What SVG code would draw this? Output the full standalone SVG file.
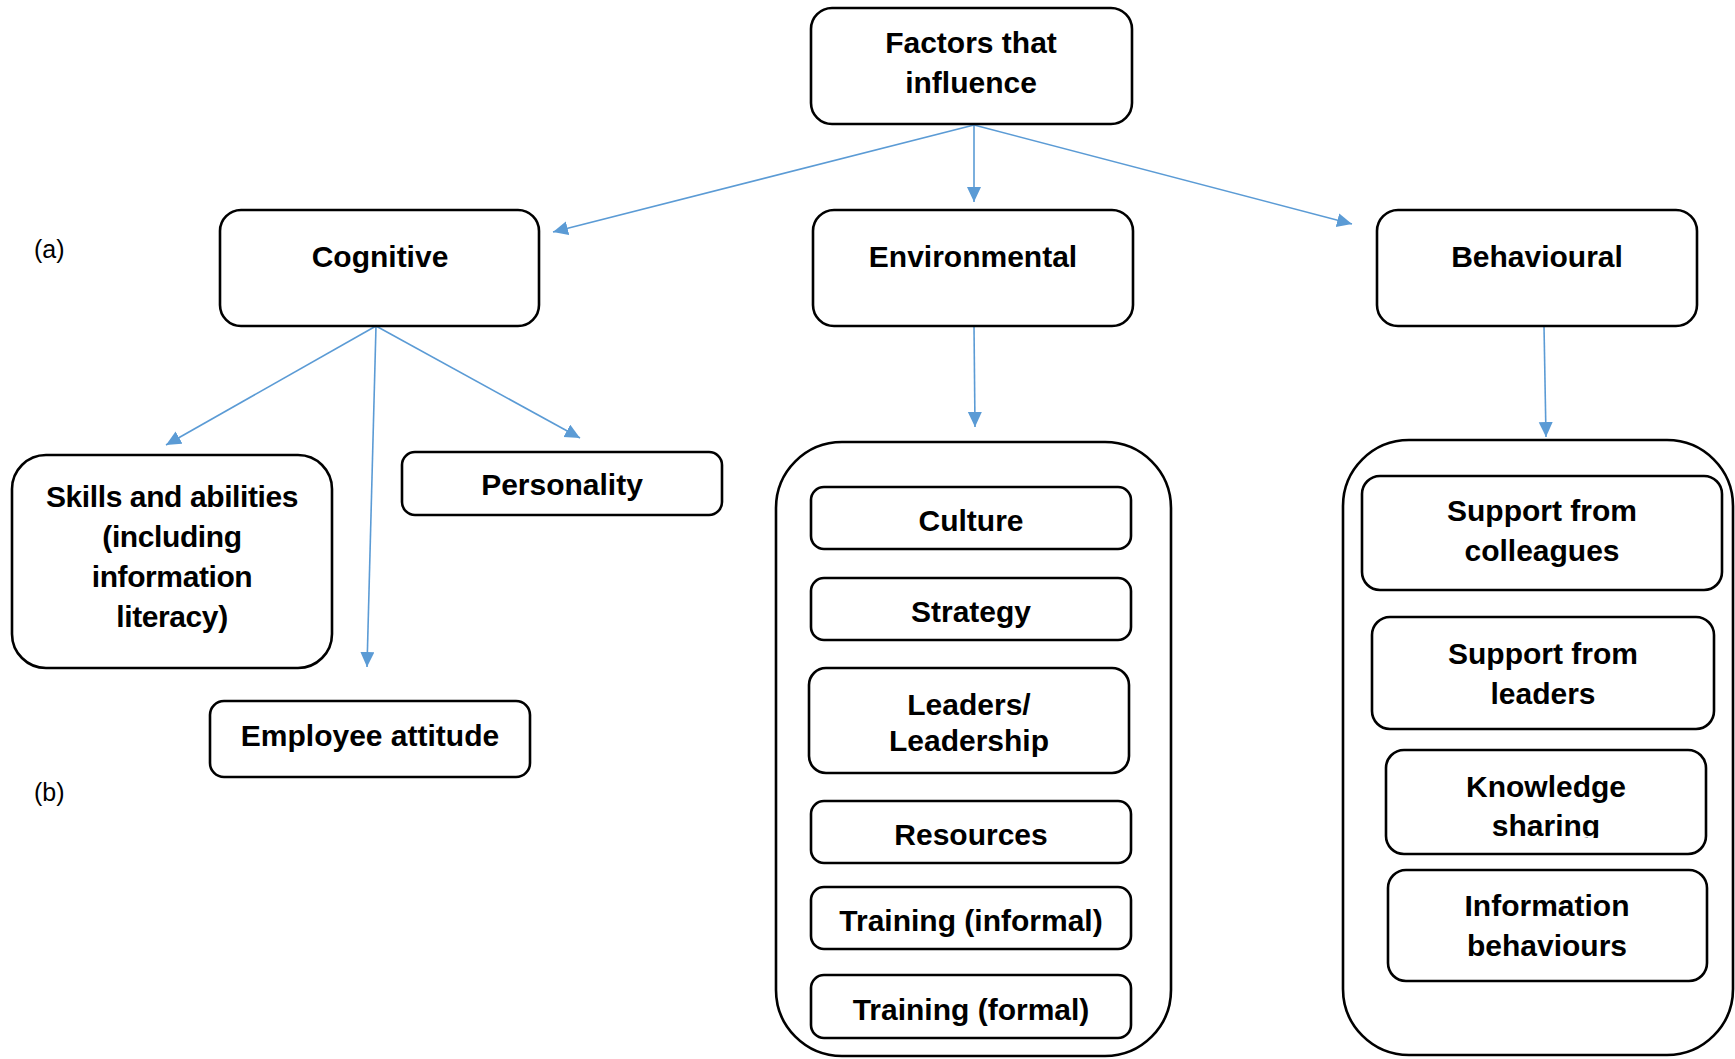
<svg xmlns="http://www.w3.org/2000/svg" width="1735" height="1059" viewBox="0 0 1735 1059">
  <style>
    .box { fill: #ffffff; stroke: #000000; stroke-width: 2.6; }
    .lbl { font-family: "Liberation Sans", Arial, sans-serif; font-weight: bold; font-size: 30px; fill: #000000; text-anchor: middle; }
    .tag { font-family: "Liberation Sans", Arial, sans-serif; font-size: 25px; fill: #000000; }
    .edge { fill: none; stroke: #5B9BD5; stroke-width: 1.6; }
  </style>
  <defs>
    <marker id="arrow" markerUnits="userSpaceOnUse" markerWidth="16" markerHeight="16" refX="15" refY="7" orient="auto">
      <path d="M0,0 L15,7 L0,14 z" fill="#5B9BD5"/>
    </marker>
    <clipPath id="clip-sharing">
      <rect x="1386" y="750" width="320" height="88"/>
    </clipPath>
  </defs>

  <rect width="1735" height="1059" fill="#ffffff"/>

  <!-- side tags -->
  <text class="tag" x="34" y="258">(a)</text>
  <text class="tag" x="34" y="801">(b)</text>

  <!-- containers for the grouped factors -->
  <g id="env-group">
    <rect class="box" x="776" y="442" width="395" height="614" rx="66" ry="66"/>
  </g>
  <g id="behav-group">
    <rect class="box" x="1343" y="440" width="390" height="615" rx="66" ry="66"/>
  </g>

  <!-- connectors -->
  <g id="connectors">
    <line class="edge" x1="974" y1="125" x2="553" y2="232" marker-end="url(#arrow)"/>
    <line class="edge" x1="974" y1="125" x2="974" y2="202" marker-end="url(#arrow)"/>
    <line class="edge" x1="974" y1="125" x2="1352" y2="224" marker-end="url(#arrow)"/>
    <line class="edge" x1="376" y1="326" x2="166" y2="445" marker-end="url(#arrow)"/>
    <line class="edge" x1="376" y1="326" x2="367" y2="667" marker-end="url(#arrow)"/>
    <line class="edge" x1="376" y1="326" x2="580" y2="438" marker-end="url(#arrow)"/>
    <line class="edge" x1="974" y1="326" x2="975" y2="427" marker-end="url(#arrow)"/>
    <line class="edge" x1="1544" y1="326" x2="1546" y2="437" marker-end="url(#arrow)"/>
  </g>

  <!-- top level -->
  <g id="factors">
    <rect class="box" x="811" y="8" width="321" height="116" rx="21" ry="21"/>
    <text class="lbl" x="971" y="53">Factors that</text>
    <text class="lbl" x="971" y="93">influence</text>
  </g>

  <!-- categories -->
  <g id="cognitive">
    <rect class="box" x="220" y="210" width="319" height="116" rx="21" ry="21"/>
    <text class="lbl" x="380" y="267">Cognitive</text>
  </g>
  <g id="environmental">
    <rect class="box" x="813" y="210" width="320" height="116" rx="21" ry="21"/>
    <text class="lbl" x="973" y="267">Environmental</text>
  </g>
  <g id="behavioural">
    <rect class="box" x="1377" y="210" width="320" height="116" rx="21" ry="21"/>
    <text class="lbl" x="1537" y="267">Behavioural</text>
  </g>

  <!-- cognitive factors -->
  <g id="skills">
    <rect class="box" x="12" y="455" width="320" height="213" rx="34" ry="34"/>
    <text class="lbl" x="172" y="507" letter-spacing="-0.4">Skills and abilities</text>
    <text class="lbl" x="172" y="547" letter-spacing="-0.4">(including</text>
    <text class="lbl" x="172" y="587" letter-spacing="-0.4">information</text>
    <text class="lbl" x="172" y="627" letter-spacing="-0.4">literacy)</text>
  </g>
  <g id="personality">
    <rect class="box" x="402" y="452" width="320" height="63" rx="13" ry="13"/>
    <text class="lbl" x="562" y="495">Personality</text>
  </g>
  <g id="attitude">
    <rect class="box" x="210" y="701" width="320" height="76" rx="14" ry="14"/>
    <text class="lbl" x="370" y="746">Employee attitude</text>
  </g>

  <!-- environmental factors -->
  <g id="culture">
    <rect class="box" x="811" y="487" width="320" height="62" rx="13" ry="13"/>
    <text class="lbl" x="971" y="531">Culture</text>
  </g>
  <g id="strategy">
    <rect class="box" x="811" y="578" width="320" height="62" rx="13" ry="13"/>
    <text class="lbl" x="971" y="622">Strategy</text>
  </g>
  <g id="leadership">
    <rect class="box" x="809" y="668" width="320" height="105" rx="17" ry="17"/>
    <text class="lbl" x="969" y="715">Leaders/</text>
    <text class="lbl" x="969" y="751">Leadership</text>
  </g>
  <g id="resources">
    <rect class="box" x="811" y="801" width="320" height="62" rx="13" ry="13"/>
    <text class="lbl" x="971" y="845">Resources</text>
  </g>
  <g id="training-informal">
    <rect class="box" x="811" y="887" width="320" height="62" rx="13" ry="13"/>
    <text class="lbl" x="971" y="931">Training (informal)</text>
  </g>
  <g id="training-formal">
    <rect class="box" x="811" y="975" width="320" height="63" rx="13" ry="13"/>
    <text class="lbl" x="971" y="1020">Training (formal)</text>
  </g>

  <!-- behavioural factors -->
  <g id="colleagues">
    <rect class="box" x="1362" y="476" width="360" height="114" rx="18" ry="18"/>
    <text class="lbl" x="1542" y="521">Support from</text>
    <text class="lbl" x="1542" y="561">colleagues</text>
  </g>
  <g id="leaders">
    <rect class="box" x="1372" y="617" width="342" height="112" rx="18" ry="18"/>
    <text class="lbl" x="1543" y="664">Support from</text>
    <text class="lbl" x="1543" y="704">leaders</text>
  </g>
  <g id="knowledge">
    <rect class="box" x="1386" y="750" width="320" height="104" rx="18" ry="18"/>
    <text class="lbl" x="1546" y="797">Knowledge</text>
    <text class="lbl" x="1546" y="836" clip-path="url(#clip-sharing)">sharing</text>
  </g>
  <g id="info-behaviours">
    <rect class="box" x="1388" y="870" width="319" height="111" rx="18" ry="18"/>
    <text class="lbl" x="1547" y="916">Information</text>
    <text class="lbl" x="1547" y="956">behaviours</text>
  </g>
</svg>
